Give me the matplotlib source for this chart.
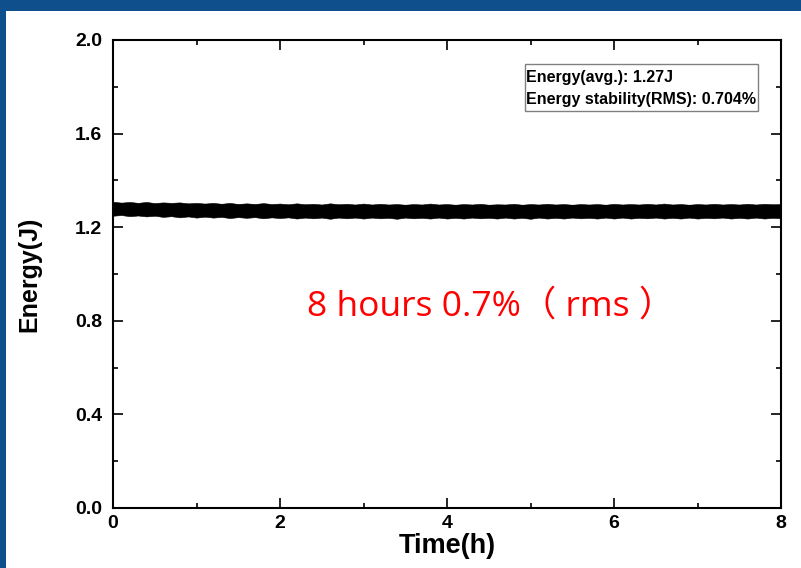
import matplotlib
matplotlib.use('Agg')
import matplotlib.pyplot as plt
from matplotlib.patches import Rectangle

plt.rcParams['font.family'] = ['Liberation Sans', 'DejaVu Sans']
plt.rcParams['font.weight'] = 'bold'

# solid core of the energy band, read every 1 h
core_time = [0, 1, 2, 3, 4, 5, 6, 7, 8]
core_upper = [1.303, 1.300, 1.297, 1.296, 1.295, 1.296, 1.297, 1.297, 1.297]
core_lower = [1.255, 1.250, 1.246, 1.244, 1.243, 1.244, 1.245, 1.245, 1.245]

# outer fuzzy edge of the band (spikes), read every 0.1 h
time_h = [i * 0.1 for i in range(81)]
energy_upper = [1.309, 1.305, 1.308, 1.304, 1.308, 1.303, 1.306, 1.304, 1.306, 1.302,
                1.304, 1.301, 1.304, 1.300, 1.304, 1.299, 1.302, 1.299, 1.303, 1.299,
                1.301, 1.298, 1.302, 1.298, 1.300, 1.297, 1.302, 1.298, 1.300, 1.297,
                1.301, 1.297, 1.300, 1.297, 1.299, 1.296, 1.299, 1.297, 1.301, 1.297,
                1.299, 1.296, 1.299, 1.297, 1.300, 1.296, 1.298, 1.297, 1.300, 1.296,
                1.299, 1.297, 1.300, 1.297, 1.299, 1.296, 1.299, 1.297, 1.299, 1.296,
                1.300, 1.297, 1.299, 1.297, 1.300, 1.297, 1.301, 1.297, 1.299, 1.296,
                1.299, 1.297, 1.300, 1.297, 1.299, 1.297, 1.300, 1.297, 1.300, 1.298, 1.299]
energy_lower = [1.249, 1.252, 1.247, 1.250, 1.246, 1.249, 1.244, 1.247, 1.242, 1.246,
                1.241, 1.245, 1.241, 1.244, 1.239, 1.243, 1.240, 1.243, 1.238, 1.242,
                1.239, 1.242, 1.237, 1.241, 1.238, 1.241, 1.236, 1.241, 1.238, 1.241,
                1.237, 1.241, 1.238, 1.240, 1.236, 1.241, 1.238, 1.240, 1.237, 1.241,
                1.237, 1.240, 1.237, 1.241, 1.238, 1.240, 1.237, 1.241, 1.237, 1.240,
                1.236, 1.241, 1.237, 1.240, 1.237, 1.241, 1.238, 1.240, 1.237, 1.241,
                1.237, 1.241, 1.237, 1.240, 1.238, 1.241, 1.237, 1.240, 1.237, 1.241,
                1.237, 1.240, 1.238, 1.241, 1.237, 1.240, 1.237, 1.241, 1.237, 1.240, 1.238]

x_ticks = [0, 2, 4, 6, 8]
y_ticks = [0.0, 0.4, 0.8, 1.2, 1.6, 2.0]
info_lines = ['Energy(avg.): 1.27J', 'Energy stability(RMS): 0.704%']
note = '8 hours 0.7%（ rms ）'

fig = plt.figure(figsize=(8.01, 5.68), dpi=100)
fig.patch.set_facecolor('#0E4F8C')
fig.patches.append(Rectangle((6 / 801, 0), 1, 1 - 11 / 568, transform=fig.transFigure,
                             facecolor='white', edgecolor='none', zorder=-10))

ax = fig.add_axes([113 / 801, 1 - 508 / 568, 668 / 801, 468 / 568])
ax.set_facecolor('white')

ax.fill_between(time_h, energy_lower, energy_upper, color='black', linewidth=0.4,
                edgecolor='black')
ax.fill_between(core_time, core_lower, core_upper, color='black', linewidth=0)

ax.set_xlim(0, 8)
ax.set_ylim(0, 2.0)
ax.set_xticks(x_ticks)
ax.set_yticks(y_ticks)
ax.set_xticks([1, 3, 5, 7], minor=True)
ax.set_yticks([0.2, 0.6, 1.0, 1.4, 1.8], minor=True)
ax.set_yticklabels(['%.1f' % v for v in y_ticks])
ax.tick_params(which='both', direction='in', top=True, right=True, width=1.2, labelsize=14)
ax.tick_params(which='major', length=7)
ax.tick_params(which='minor', length=3.5)
ax.tick_params(axis='x', pad=5)
ax.tick_params(axis='y', pad=8)
for s in ax.spines.values():
    s.set_linewidth(1.5)

ax.set_xlabel('Time(h)', fontsize=19.5, fontweight='bold', labelpad=1)
ax.set_ylabel('Energy(J)', fontsize=18, fontweight='bold', labelpad=24)

ax.add_patch(Rectangle((0.617, 0.848), 0.349, 0.101, transform=ax.transAxes,
                       facecolor='white', edgecolor='#808080', linewidth=1.0))
ax.text(0.619, 0.919, info_lines[0], transform=ax.transAxes, fontsize=11.5,
        fontweight='bold', va='center', ha='left')
ax.text(0.619, 0.872, info_lines[1], transform=ax.transAxes, fontsize=11.5,
        fontweight='bold', va='center', ha='left')

ax.text(4.52, 0.86, note, color='red', fontsize=25.5, fontweight='normal',
        family=['Open Sans', 'Noto Sans CJK SC'], ha='center', va='center')

fig.savefig('out.png', dpi=100, facecolor=fig.get_facecolor())
